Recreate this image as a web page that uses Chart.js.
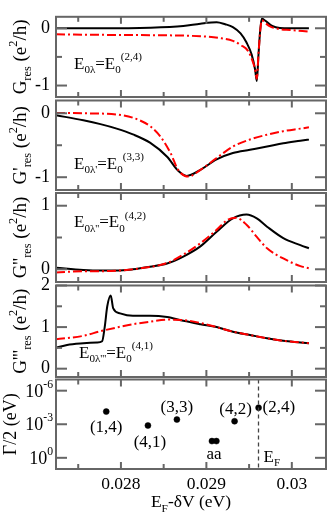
<!DOCTYPE html>
<html><head><meta charset="utf-8">
<script src="https://cdn.jsdelivr.net/npm/chart.js@4.4.0/dist/chart.umd.min.js"></script>
<style>
html,body{margin:0;padding:0;background:#fff;}
#wrap{position:relative;width:331px;height:517px;overflow:hidden;}
#wrap canvas{position:absolute;left:0;top:0;}
</style></head><body>
<div id="wrap">
<canvas id="c1" width="331" height="517"></canvas>
<canvas id="c2" width="331" height="517"></canvas>
<canvas id="c3" width="331" height="517"></canvas>
<canvas id="c4" width="331" height="517"></canvas>
<canvas id="c5" width="331" height="517"></canvas>
</div>
<script>
// ---------------- DATA ----------------
const xMin = 0.02724, xMax = 0.0304;
const xMajorTicks = [0.028, 0.029, 0.030];
const xMinorTicks = [0.0275, 0.0285, 0.0295];
const xTickLabels = ['0.028', '0.029', '0.03'];

// Panel 1: G_res
const g1BlackX = [0.02724,0.02776,0.02834,0.02873,0.02893,0.02912,0.02922,0.02931,0.02940,0.02947,0.02953,0.02957,0.02959,0.02961,0.02963,0.02965,0.02969,0.02977,0.02986,0.02998,0.03020];
const g1BlackY = [0.0,0.0,0.01,0.04,0.08,0.105,0.07,0.02,-0.09,-0.25,-0.46,-0.72,-0.92,-0.46,-0.03,0.17,0.13,0.04,0.005,0.0,0.0];
const g1RedX = [0.02724,0.02776,0.02834,0.02893,0.02915,0.02931,0.02941,0.02949,0.02954,0.02957,0.02959,0.02961,0.02963,0.02965,0.02969,0.02975,0.02986,0.02998,0.03020];
const g1RedY = [-0.105,-0.115,-0.12,-0.14,-0.17,-0.22,-0.30,-0.40,-0.57,-0.72,-0.88,-0.45,-0.05,0.14,0.09,0.03,-0.016,-0.03,-0.06];

// Panel 2: G'_res
const g2BlackX = [0.02724,0.02756,0.02776,0.02795,0.02814,0.02834,0.02854,0.02867,0.02877,0.02893,0.02912,0.02931,0.02951,0.02971,0.02990,0.03010,0.03020];
const g2BlackY = [-0.03,-0.11,-0.17,-0.24,-0.33,-0.46,-0.68,-0.90,-0.98,-0.885,-0.72,-0.62,-0.57,-0.52,-0.47,-0.43,-0.41];
const g2RedX = [0.02724,0.02756,0.02795,0.02814,0.02834,0.02846,0.02858,0.02867,0.02879,0.02893,0.02912,0.02931,0.02951,0.02971,0.02990,0.03010,0.03020];
const g2RedY = [0.006,0.0,-0.02,-0.07,-0.20,-0.36,-0.62,-0.885,-0.99,-0.885,-0.70,-0.52,-0.41,-0.335,-0.28,-0.24,-0.22];

// Panel 3: G''_res
const g3BlackX = [0.02724,0.02756,0.02776,0.02795,0.02814,0.02834,0.02854,0.02873,0.02893,0.02912,0.02931,0.02947,0.02959,0.02971,0.02990,0.03010,0.03020];
const g3BlackY = [0.025,-0.01,-0.02,-0.02,0.0,0.04,0.09,0.20,0.36,0.59,0.80,0.86,0.80,0.67,0.49,0.38,0.33];
const g3RedX = [0.02724,0.02756,0.02776,0.02814,0.02854,0.02873,0.02893,0.02912,0.02925,0.02935,0.02947,0.02959,0.02971,0.02990,0.03010,0.03020];
const g3RedY = [-0.05,-0.03,-0.03,0.0,0.10,0.23,0.41,0.62,0.78,0.81,0.70,0.51,0.33,0.17,0.05,0.015];

// Panel 4: G'''_res
const g4BlackX = [0.02724,0.02737,0.02756,0.02772,0.02778,0.02781,0.02784,0.02788,0.02791,0.02799,0.02814,0.02834,0.02854,0.02873,0.02893,0.02912,0.02931,0.02951,0.02971,0.02990,0.03010,0.03020];
const g4BlackY = [0.505,0.57,0.61,0.63,0.66,1.0,1.5,1.76,1.45,1.33,1.27,1.27,1.24,1.15,1.07,1.00,0.89,0.81,0.73,0.67,0.63,0.61];
const g4RedX = [0.02724,0.02756,0.02776,0.02795,0.02814,0.02834,0.02854,0.02873,0.02893,0.02912,0.02931,0.02951,0.02971,0.02990,0.03010,0.03020];
const g4RedY = [0.71,0.79,0.90,0.99,1.07,1.13,1.18,1.17,1.10,1.00,0.89,0.81,0.73,0.67,0.63,0.61];

// Panel 5: Gamma/2 widths
const gammaX = [0.027828,0.028316,0.028655,0.029065,0.029117,0.029330,0.029611];
const gammaY = [7.4e-5,1.3e-3,3.8e-4,3.2e-2,3.2e-2,5.4e-4,3.3e-5];
const gammaLabels = ['(1,4)','(4,1)','(3,3)','aa','','(4,2)','(2,4)'];
const fermiX = 0.02961;
const logTicks = [1e-6, 1e-3, 1];
const logTickExps = ['-6', '-3', '0'];

// ---------------- STYLE / LAYOUT ----------------
const FONT = '"Liberation Serif", "Times New Roman", serif';
const FRAME = '#666666';
const LEFT = 56, RIGHT = 326, W = 331, H = 517;
const labelOffsets = [[0,20.5,'center'],[2,21.5,'center'],[0,-7.5,'center'],[2,18.3,'center'],[0,0,'center'],[1,-7.5,'center'],[4,4.5,'left']];

function drawRich(ctx, segs, x, y, size, align, rotate) {
  ctx.save();
  ctx.translate(x, y);
  if (rotate) ctx.rotate(-Math.PI / 2);
  const parts = segs.map(([t, k]) => {
    const s = k === 'n' ? size : size * 0.65;
    ctx.font = s + 'px ' + FONT;
    return {t, k, s, w: ctx.measureText(t).width};
  });
  const total = parts.reduce((a, p) => a + p.w, 0);
  let cx = align === 'center' ? -total / 2 : (align === 'right' ? -total : 0);
  ctx.fillStyle = '#000';
  ctx.textBaseline = 'alphabetic';
  ctx.textAlign = 'left';
  for (const p of parts) {
    ctx.font = p.s + 'px ' + FONT;
    const dy = p.k === 'sub' ? size * 0.28 : (p.k === 'sup' ? -size * 0.5 : 0);
    ctx.fillText(p.t, cx, dy);
    cx += p.w;
  }
  ctx.restore();
}

function pts(xs, ys) { return xs.map((x, i) => ({x, y: ys[i]})); }

function blackLine(xs, ys) {
  return {data: pts(xs, ys), borderColor: '#000', borderWidth: 2, pointRadius: 0, cubicInterpolationMode: 'monotone', fill: false};
}
function redLine(xs, ys) {
  return {data: pts(xs, ys), borderColor: '#ff0000', borderWidth: 2, pointRadius: 0, borderDash: [9, 3, 2, 3], cubicInterpolationMode: 'monotone', fill: false};
}

const panels = [
  {id: 'c1', top: 8.5, bottom: 97, yMin: -1.2, yMax: 0.2, major: [-1, 0], minor: [-0.5], labels: ['-1', '0'],
   title: [['G','n'],['res','sub'],[' (e','n'],['2','sup'],['/h)','n']],
   note: [['E','n'],['0λ','sub'],['=E','n'],['0','sub'],['(2,4)','sup']], noteX: 74, noteY: 68.5,
   datasets: [redLine(g1RedX, g1RedY), blackLine(g1BlackX, g1BlackY)]},
  {id: 'c2', top: 100.5, bottom: 190, yMin: -1.2, yMax: 0.2, major: [-1, 0], minor: [-0.5], labels: ['-1', '0'],
   title: [['G\'','n'],['res','sub'],[' (e','n'],['2','sup'],['/h)','n']],
   note: [['E','n'],['0λ\'','sub'],['=E','n'],['0','sub'],['(3,3)','sup']], noteX: 74, noteY: 168.5,
   datasets: [redLine(g2RedX, g2RedY), blackLine(g2BlackX, g2BlackY)]},
  {id: 'c3', top: 193, bottom: 282, yMin: -0.2, yMax: 1.2, major: [0, 1], minor: [0.5], labels: ['0', '1'],
   title: [['G\'\'','n'],['res','sub'],[' (e','n'],['2','sup'],['/h)','n']],
   note: [['E','n'],['0λ\'\'','sub'],['=E','n'],['0','sub'],['(4,2)','sup']], noteX: 74, noteY: 227,
   datasets: [redLine(g3RedX, g3RedY), blackLine(g3BlackX, g3BlackY)]},
  {id: 'c4', top: 285.5, bottom: 377, yMin: -0.2, yMax: 2, major: [0, 1, 2], minor: [0.5, 1.5], labels: ['0', '1', '2'],
   title: [['G\'\'\'','n'],['res','sub'],[' (e','n'],['2','sup'],['/h)','n']],
   note: [['E','n'],['0λ\'\'\'','sub'],['=E','n'],['0','sub'],['(4,1)','sup']], noteX: 79, noteY: 357.5,
   datasets: [redLine(g4RedX, g4RedY), blackLine(g4BlackX, g4BlackY)]}
];

function drawFrame(chart, yMajor, yMinor) {
  const {ctx, chartArea: a, scales} = chart;
  ctx.save();
  ctx.strokeStyle = FRAME;
  ctx.lineWidth = 2;
  ctx.strokeRect(a.left, a.top, a.right - a.left, a.bottom - a.top);
  const seg = (x1, y1, x2, y2) => { ctx.beginPath(); ctx.moveTo(x1, y1); ctx.lineTo(x2, y2); ctx.stroke(); };
  xMajorTicks.forEach(v => { const p = scales.x.getPixelForValue(v); seg(p, a.top, p, a.top + 7); seg(p, a.bottom, p, a.bottom - 7); });
  xMinorTicks.forEach(v => { const p = scales.x.getPixelForValue(v); seg(p, a.top, p, a.top + 5); seg(p, a.bottom, p, a.bottom - 5); });
  yMajor.forEach(v => { const p = scales.y.getPixelForValue(v); seg(a.left, p, a.left + 11, p); seg(a.right, p, a.right - 11, p); });
  yMinor.forEach(v => { const p = scales.y.getPixelForValue(v); seg(a.left, p, a.left + 6, p); seg(a.right, p, a.right - 6, p); });
  ctx.restore();
}

Chart.defaults.font.family = FONT;
Chart.defaults.animation = false;

panels.forEach(P => {
  const cfgPlugin = {
    id: 'frame_' + P.id,
    afterDraw(chart) {
      drawFrame(chart, P.major, P.minor);
      const a = chart.chartArea;
      drawRich(chart.ctx, P.title, 26, (a.top + a.bottom) / 2, 19, 'center', true);
      drawRich(chart.ctx, P.note, P.noteX, P.noteY, 17, 'left', false);
    }
  };
  new Chart(document.getElementById(P.id), {
    type: 'line',
    data: {datasets: P.datasets},
    options: {
      responsive: false, animation: false, devicePixelRatio: 1,
      layout: {padding: {left: 0, right: W - RIGHT, top: P.top, bottom: H - P.bottom}},
      plugins: {legend: {display: false}, tooltip: {enabled: false}},
      scales: {
        x: {type: 'linear', min: xMin, max: xMax, display: false},
        y: {
          type: 'linear', min: P.yMin, max: P.yMax,
          afterFit(s) { s.width = LEFT; },
          afterBuildTicks(s) { s.ticks = P.major.map(v => ({value: v})); },
          grid: {display: false, drawTicks: false},
          border: {display: false},
          ticks: {padding: 6, color: '#000', font: {family: FONT, size: 18},
                  callback: (v, i) => P.labels[i]}
        }
      }
    },
    plugins: [cfgPlugin]
  });
});

// Panel 5
const p5Plugin = {
  id: 'frame_c5',
  afterDraw(chart) {
    drawFrame(chart, logTicks, []);
    const {ctx, chartArea: a, scales} = chart;
    logTicks.forEach((v, i) => {
      const py = scales.y.getPixelForValue(v);
      drawRich(ctx, [['10','n'],[logTickExps[i],'sup']], 53, py + 6, 18, 'right', false);
    });
    gammaLabels.forEach((t, i) => {
      if (!t) return;
      const px = scales.x.getPixelForValue(gammaX[i]);
      const py = scales.y.getPixelForValue(gammaY[i]);
      const o = labelOffsets[i];
      drawRich(ctx, [[t,'n']], px + o[0], py + o[1], 17, o[2], false);
    });
    const fx = scales.x.getPixelForValue(fermiX);
    drawRich(ctx, [['E','n'],['F','sub']], fx + 5, a.bottom - 7.5, 17, 'left', false);
    drawRich(ctx, [['Γ/2 (eV)','n']], 16, (a.top + a.bottom) / 2, 18, 'center', true);
    drawRich(ctx, [['E','n'],['F','sub'],['-δV (eV)','n']], (a.left + a.right) / 2, 507, 17.5, 'center', false);
  }
};

new Chart(document.getElementById('c5'), {
  type: 'line',
  data: {datasets: [
    {data: [{x: fermiX, y: 1e-7}, {x: fermiX, y: 10}], borderColor: '#444', borderWidth: 1.3, borderDash: [4, 3], pointRadius: 0, fill: false},
    {data: pts(gammaX, gammaY), showLine: false, pointRadius: 3, pointBackgroundColor: '#000', pointBorderColor: '#000', pointBorderWidth: 0.5}
  ]},
  options: {
    responsive: false, animation: false, devicePixelRatio: 1,
    layout: {padding: {left: LEFT, right: W - RIGHT, top: 379.5, bottom: H - 469 - 30}},
    plugins: {legend: {display: false}, tooltip: {enabled: false}},
    scales: {
      x: {
        type: 'linear', min: xMin, max: xMax,
        afterFit(s) { s.height = 30; },
        afterBuildTicks(s) { s.ticks = xMajorTicks.map(v => ({value: v})); },
        grid: {display: false, drawTicks: false},
        border: {display: false},
        ticks: {padding: 5, color: '#000', maxRotation: 0, autoSkip: false, font: {family: FONT, size: 17.5},
                callback: (v, i) => xTickLabels[i]}
      },
      y: {type: 'logarithmic', min: 1e-7, max: 10, reverse: true, display: false}
    }
  },
  plugins: [p5Plugin]
});
</script>
</body></html>
